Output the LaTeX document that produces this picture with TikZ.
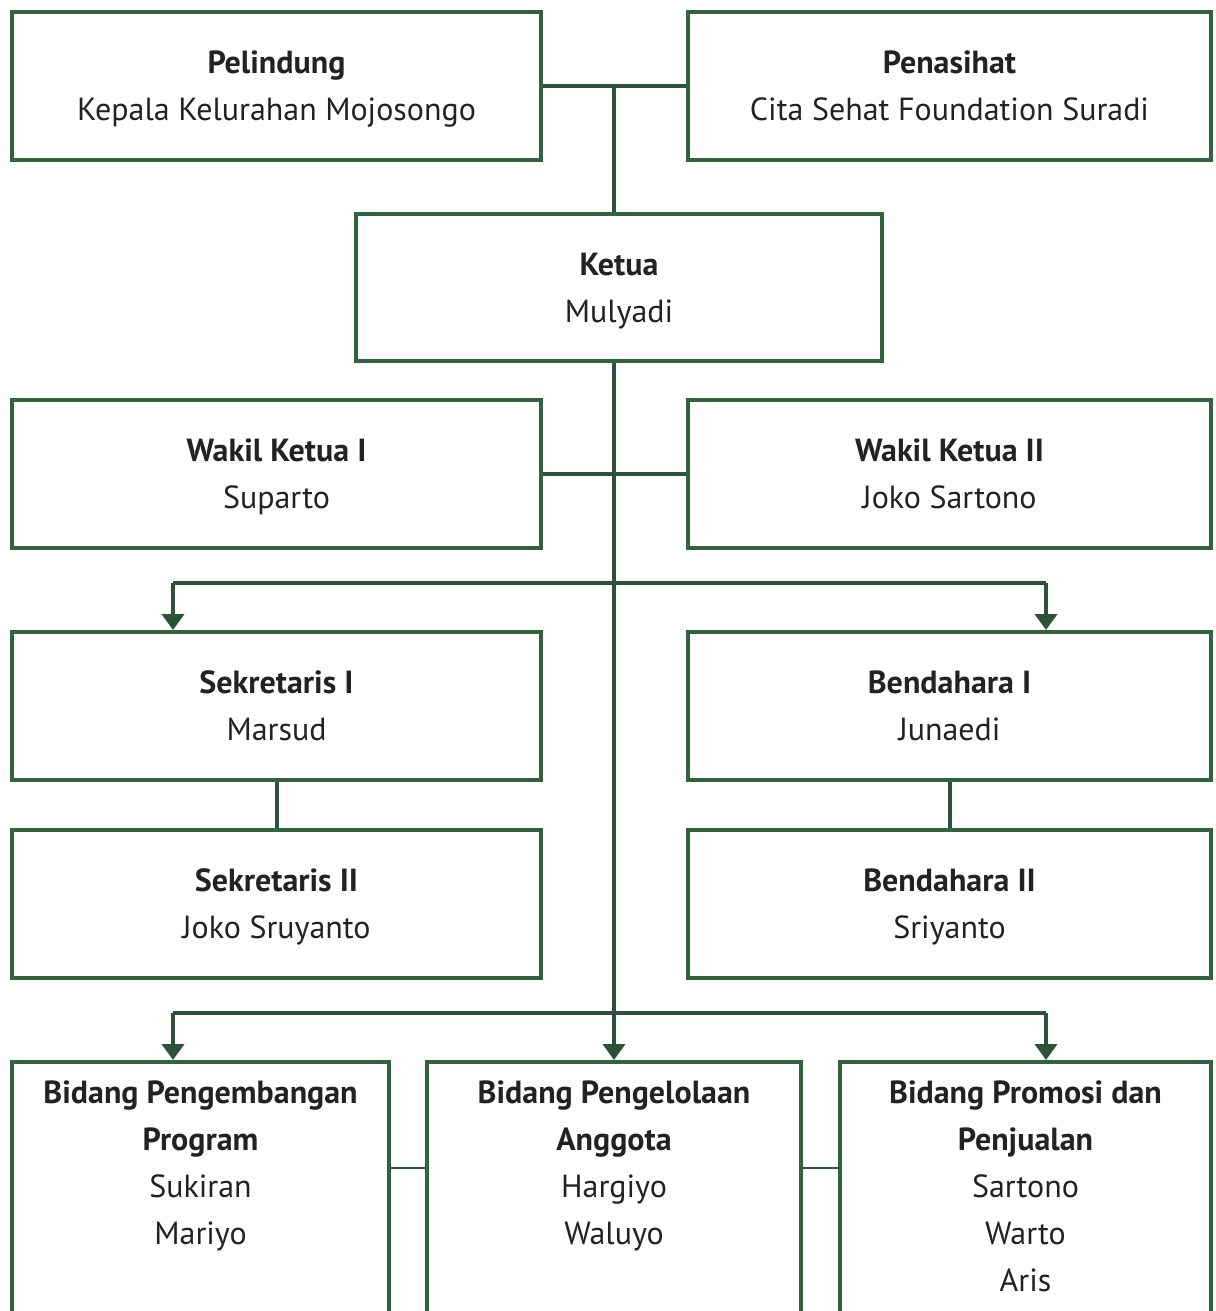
\documentclass[tikz,border=0pt]{standalone}
\usepackage{fontspec}
\setmainfont{PT Sans}
\definecolor{boxgreen}{RGB}{48, 100, 60}
\definecolor{linegreen}{RGB}{44, 82, 56}
\definecolor{textdark}{RGB}{34, 34, 34}
\usetikzlibrary{arrows.meta,positioning}

\begin{document}
\begin{tikzpicture}[x=1pt, y=-1pt, node distance=46pt,
    orgbox/.style={rectangle, draw=boxgreen, line width=4pt, minimum width=529pt, minimum height=148pt,
      align=center, text=textdark, font=\fontsize{32}{47}\selectfont, text depth=0pt},
    tallbox/.style={rectangle, draw=boxgreen, line width=4pt, minimum height=330pt},
    boxtext/.style={anchor=north, yshift=-17pt, align=center, text=textdark, font=\fontsize{32}{47}\selectfont},
    link/.style={draw=linegreen, line width=4pt},
    arrowlink/.style={link, -{Triangle[width=22pt, length=16pt]}},
    thinlink/.style={draw=linegreen, line width=2.5pt}]
    \useasboundingbox (0,0) rectangle (1215,1311);

    \node[orgbox] (pelindung) at (276.5,86) {\textbf{Pelindung}\\Kepala Kelurahan Mojosongo};
    \node[orgbox, minimum width=523pt] (penasihat) at (949.5,86) {\textbf{Penasihat}\\Cita Sehat Foundation Suradi};
    \node[orgbox, minimum width=526pt, minimum height=147pt] (ketua) at (619,287.5) {\textbf{Ketua}\\Mulyadi};

    \node[orgbox] (wakil1) at (276.5,474) {\textbf{Wakil Ketua I}\\Suparto};
    \node[orgbox, minimum width=523pt] (wakil2) at (949.5,474) {\textbf{Wakil Ketua II}\\Joko Sartono};

    \node[orgbox] (sekretaris1) at (276.5,706) {\textbf{Sekretaris I}\\Marsud};
    \node[orgbox, minimum width=523pt] (bendahara1) at (949.5,706) {\textbf{Bendahara I}\\Junaedi};
    \node[orgbox, below=of sekretaris1] (sekretaris2) {\textbf{Sekretaris II}\\Joko Sruyanto};
    \node[orgbox, minimum width=523pt, below=of bendahara1] (bendahara2) {\textbf{Bendahara II}\\Sriyanto};

    \node[tallbox, minimum width=377pt] (program) at (200.5,1227) {};
    \node[tallbox, minimum width=374pt] (anggota) at (614,1227) {};
    \node[tallbox, minimum width=371pt] (promosi) at (1025.5,1227) {};
    \node[boxtext] (programtext) at (program.north) {\textbf{Bidang Pengembangan}\\\textbf{Program}\\Sukiran\\Mariyo};
    \node[boxtext] (anggotatext) at (anggota.north) {\textbf{Bidang Pengelolaan}\\\textbf{Anggota}\\Hargiyo\\Waluyo};
    \node[boxtext] (promositext) at (promosi.north) {\textbf{Bidang Promosi dan}\\\textbf{Penjualan}\\Sartono\\Warto\\Aris};

    \coordinate (upperleft) at (173,583);
    \coordinate (upperright) at (1046,583);
    \coordinate (lowerleft) at (173,1013);
    \coordinate (lowerright) at (1046,1013);
    \coordinate (bidangrow) at (0,1168);

    \draw[link] (pelindung.east) -- (penasihat.west);
    \draw[link] (anggota.north |- pelindung.east) -- (anggota.north |- ketua.north);
    \draw[link] (wakil1.east) -- (wakil2.west);
    \draw[arrowlink] (anggota.north |- ketua.south) -- (anggota.north);

    \draw[link] (upperleft) -- (upperright);
    \draw[arrowlink] (upperleft) -- (upperleft |- sekretaris1.north);
    \draw[arrowlink] (upperright) -- (upperright |- bendahara1.north);
    \draw[link] (sekretaris1) -- (sekretaris2);
    \draw[link] (bendahara1) -- (bendahara2);

    \draw[link] (lowerleft) -- (lowerright);
    \draw[arrowlink] (lowerleft) -- (lowerleft |- program.north);
    \draw[arrowlink] (lowerright) -- (lowerright |- promosi.north);
    \draw[thinlink] (program.east |- bidangrow) -- (anggota.west |- bidangrow);
    \draw[thinlink] (anggota.east |- bidangrow) -- (promosi.west |- bidangrow);
\end{tikzpicture}
\end{document}
